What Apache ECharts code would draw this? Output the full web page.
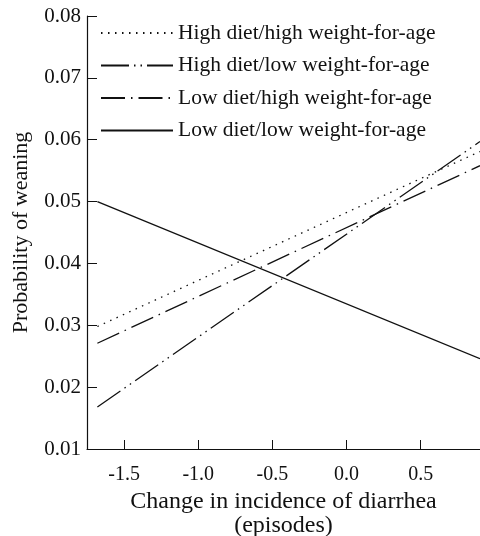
<!DOCTYPE html>
<html>
<head>
<meta charset="utf-8">
<script src="https://cdn.jsdelivr.net/npm/echarts@6/dist/echarts.min.js"></script>
<style>
  body { margin: 0; background: #fff; }
  #chart { width: 480px; height: 536px; }
</style>
</head>
<body>
<div id="chart"></div>
<script>
// change in incidence of diarrhea (episodes) at the two line ends
var xValues = [-1.68, 0.9];
var highDietHighWfa = [0.0298, 0.0581];
var highDietLowWfa = [0.0168, 0.0597];
var lowDietHighWfa = [0.0271, 0.0558];
var lowDietLowWfa = [0.0500, 0.0246];
var xTicks = [-1.5, -1.0, -0.5, 0.0, 0.5];
var seriesNames = [
  'High diet/high weight-for-age',
  'High diet/low weight-for-age',
  'Low diet/high weight-for-age',
  'Low diet/low weight-for-age'
];

function pairs(ys) {
  return xValues.map(function (x, i) { return [x, ys[i]]; });
}

var font = 'Liberation Serif';
var chart = echarts.init(document.getElementById('chart'));

function lineSeries(name, ys, dash) {
  return {
    name: name,
    type: 'line',
    data: pairs(ys),
    symbol: 'none',
    silent: true,
    itemStyle: { color: '#111' },
    lineStyle: { color: '#111', width: 1.3, type: dash }
  };
}

var option = {
  animation: false,
  backgroundColor: '#fff',
  grid: { left: 87, right: 0, top: 16, bottom: 87, outerBoundsMode: 'none' },
  legend: {
    orient: 'vertical',
    left: 100,
    top: 22,
    padding: 0,
    itemWidth: 72,
    itemHeight: 14,
    itemGap: 10.5,
    itemStyle: { opacity: 0 },
    data: seriesNames,
    textStyle: { fontFamily: font, fontSize: 21.5, lineHeight: 20, color: '#111', padding: [0, 0, 0, 0] }
  },
  xAxis: {
    type: 'value',
    min: -1.75,
    max: 0.9,
    name: 'Change in incidence of diarrhea\n(episodes)',
    nameLocation: 'middle',
    nameGap: 36,
    nameTextStyle: { fontFamily: font, fontSize: 24, color: '#111', lineHeight: 24 },
    axisLine: { onZero: false, lineStyle: { color: '#111', width: 1.2 } },
    axisTick: { inside: true, length: 9, customValues: xTicks, lineStyle: { color: '#111' } },
    axisLabel: {
      customValues: xTicks,
      fontFamily: font, fontSize: 20, color: '#111', margin: 16,
      formatter: function (v) { return v.toFixed(1); }
    },
    splitLine: { show: false }
  },
  yAxis: {
    type: 'value',
    min: 0.01,
    max: 0.08,
    interval: 0.01,
    name: 'Probability of weaning',
    nameLocation: 'middle',
    nameGap: 55,
    nameTextStyle: { fontFamily: font, fontSize: 22, color: '#111' },
    axisLine: { show: true, onZero: false, lineStyle: { color: '#111', width: 1.2 } },
    axisTick: { show: true, inside: true, length: 10, lineStyle: { color: '#111' } },
    axisLabel: {
      fontFamily: font, fontSize: 21, color: '#111', margin: 6,
      formatter: function (v) { return v.toFixed(2); }
    },
    splitLine: { show: false }
  },
  series: [
    lineSeries(seriesNames[0], highDietHighWfa, [1.5, 5.5]),
    lineSeries(seriesNames[1], highDietLowWfa, [28, 5, 1.5, 5, 1.5, 5]),
    lineSeries(seriesNames[2], lowDietHighWfa, [24, 6, 1.5, 6]),
    lineSeries(seriesNames[3], lowDietLowWfa, 'solid')
  ]
};
chart.setOption(option);
</script>
</body>
</html>
